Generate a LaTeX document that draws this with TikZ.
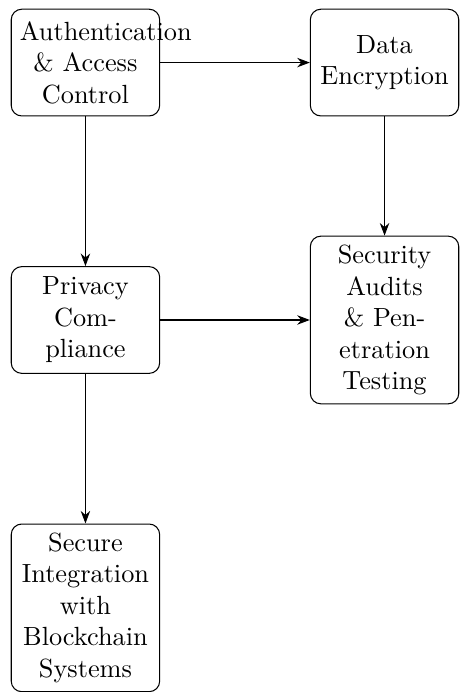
\documentclass[tikz,border=0pt]{standalone}
\usetikzlibrary{positioning,arrows.meta}
\begin{document}
\begin{tikzpicture}[
  node distance=2cm,
  box/.style={draw, rounded corners, align=center, text width=1.75cm,
              minimum height=40.6pt},
  flow/.style={-Stealth}
]
\useasboundingbox (-32.5pt,23.8pt) rectangle (142.8pt,-239.4pt);
\node[box] (auth) at (0,0) {Authentication \& Access Control};
\node[box, right=of auth] (enc) {Data Encryption};
\node[box, below=of auth] (priv) {Privacy Compliance};
\node[box, right=of priv] (audit) {Security Audits \& Penetration Testing};
\node[box, below=of priv] (chain) {Secure Integration with Blockchain Systems};
\draw[flow] (auth) -- (enc);
\draw[flow] (auth) -- (priv);
\draw[flow] (enc) -- (audit);
\draw[flow] (priv) -- (audit);
\draw[flow] (priv) -- (chain);
\end{tikzpicture}
\end{document}
